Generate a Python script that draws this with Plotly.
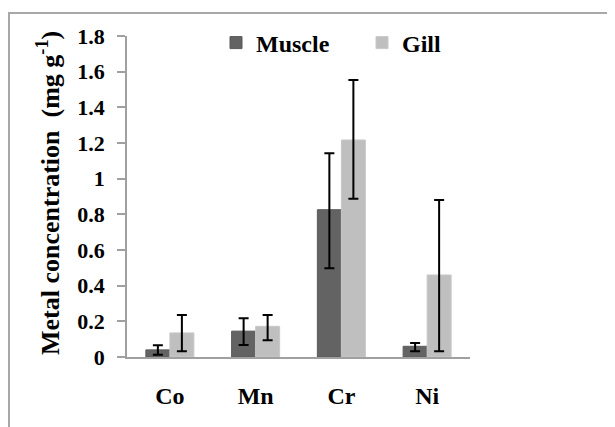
import plotly.graph_objects as go

categories = ["Co", "Mn", "Cr", "Ni"]
muscle = [0.04, 0.145, 0.826, 0.06]
muscle_err_plus = [0.026, 0.072, 0.316, 0.018]
muscle_err_minus = [0.028, 0.078, 0.328, 0.028]
gill = [0.135, 0.172, 1.217, 0.46]
gill_err_plus = [0.101, 0.064, 0.336, 0.42]
gill_err_minus = [0.103, 0.078, 0.329, 0.428]
y_ticks = [0, 0.2, 0.4, 0.6, 0.8, 1, 1.2, 1.4, 1.6, 1.8]
y_tick_labels = ["0", "0.2", "0.4", "0.6", "0.8", "1", "1.2", "1.4", "1.6", "1.8"]

# page body has an 8px default margin; the figure is sized/offset to compensate
OFF = 8
W, H = 615 - OFF, 427 - OFF
PL, PR, PT, PB = 127, 470, 36, 357          # plot area in page pixels
L, R, T, B = PL - OFF, W - (PR - OFF), PT - OFF, H - (PB - OFF)
PW, PH = W - L - R, H - T - B

def px_x(p):
    return (p - OFF - L) / PW

def px_y(p):
    return 1 - (p - OFF - T) / PH

FONT = "Liberation Serif"

def b(s):
    return "<b>" + s + "</b>"

fig = go.Figure()
fig.add_trace(go.Bar(
    x=categories, y=muscle, name=b("Muscle"), legend="legend",
    marker=dict(color="#636363", line=dict(color="#5a5a5a", width=1)),
    error_y=dict(type="data", array=muscle_err_plus, arrayminus=muscle_err_minus,
                 color="black", thickness=2, width=5),
))
fig.add_trace(go.Bar(
    x=categories, y=gill, name=b("Gill"), legend="legend2",
    marker=dict(color="#bfbfbf", line=dict(color="#c8c8c8", width=1)),
    error_y=dict(type="data", array=gill_err_plus, arrayminus=gill_err_minus,
                 color="black", thickness=2, width=5),
))

fig.update_layout(
    width=W, height=H,
    margin=dict(l=L, r=R, t=T, b=B, autoexpand=False),
    paper_bgcolor="white", plot_bgcolor="white",
    barmode="group", bargap=0.44, bargroupgap=0,
    showlegend=True,
    legend=dict(x=px_x(216), y=px_y(43), orientation="h", yanchor="middle", xanchor="left",
                font=dict(family=FONT, size=24, color="black"),
                itemwidth=30, bgcolor="rgba(0,0,0,0)"),
    legend2=dict(x=px_x(362), y=px_y(43), orientation="h", yanchor="middle", xanchor="left",
                 font=dict(family=FONT, size=24, color="black"),
                 itemwidth=30, bgcolor="rgba(0,0,0,0)"),
    xaxis=dict(showline=True, linecolor="#a0a0a0", linewidth=1.5, showgrid=False,
               tickvals=categories, ticktext=[b(c) for c in categories],
               ticks="outside", ticklen=16, tickcolor="rgba(0,0,0,0)",
               tickfont=dict(family=FONT, size=24, color="black")),
    yaxis=dict(range=[0, 1.8], tickvals=y_ticks, ticktext=[b(t) for t in y_tick_labels],
               showline=True, linecolor="#a0a0a0", linewidth=1.5, showgrid=False,
               ticks="outside", ticklen=8, tickcolor="#a0a0a0", tickwidth=1.5,
               ticklabelstandoff=8,
               tickfont=dict(family=FONT, size=22, color="black"), zeroline=False),
    annotations=[dict(
        text=b("Metal concentration  (mg g<sup>-1</sup>)"), textangle=-90,
        xref="paper", yref="paper", x=px_x(49), y=px_y(193),
        xanchor="center", yanchor="middle", showarrow=False,
        font=dict(family=FONT, size=26, color="black"))],
    shapes=[
        dict(type="line", xref="paper", yref="paper", x0=px_x(OFF), x1=px_x(625),
             y0=px_y(13), y1=px_y(13), line=dict(color="#a8a8a8", width=2)),
        dict(type="line", xref="paper", yref="paper", x0=px_x(OFF + 1), x1=px_x(OFF + 1),
             y0=px_y(13), y1=px_y(440), line=dict(color="#a8a8a8", width=2)),
    ],
)

fig.write_html("out.html")
